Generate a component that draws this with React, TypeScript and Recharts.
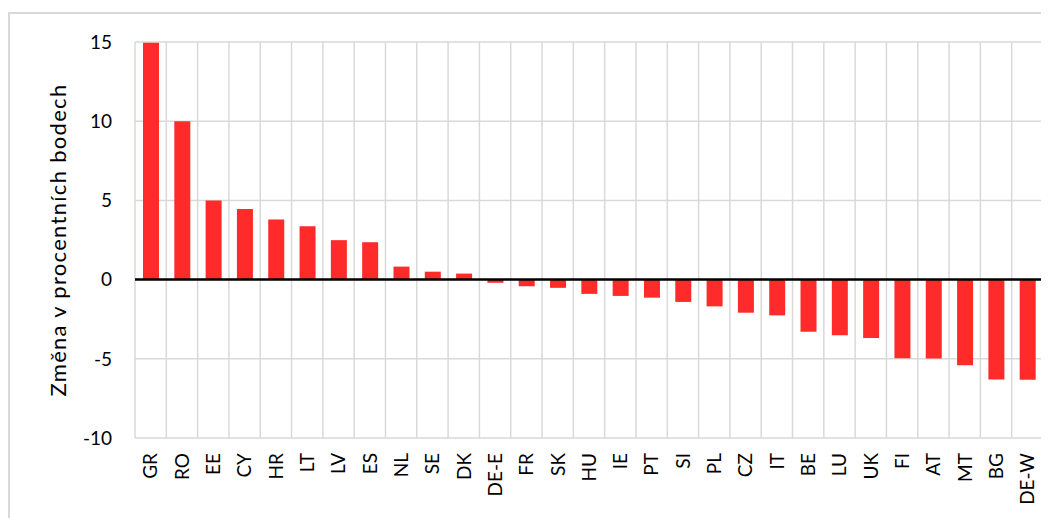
import React from "react";
import {
  BarChart,
  Bar,
  XAxis,
  YAxis,
  CartesianGrid,
  ReferenceLine,
} from "recharts";

const countries = [
  "GR", "RO", "EE", "CY", "HR", "LT", "LV", "ES", "NL", "SE", "DK", "DE-E", "FR", "SK", "HU",
  "IE", "PT", "SI", "PL", "CZ", "IT", "BE", "LU", "UK", "FI", "AT", "MT", "BG", "DE-W",
];

const changes = [
  14.95, 10.0, 5.0, 4.45, 3.8, 3.37, 2.49, 2.36, 0.82, 0.5, 0.38, -0.2, -0.42, -0.52, -0.9,
  -1.03, -1.14, -1.41, -1.69, -2.09, -2.26, -3.29, -3.52, -3.69, -4.96, -4.98, -5.4, -6.31, -6.33,
];

const yTicks = [-10, -5, 0, 5, 10, 15];
const yLabel = "Změna v procentních bodech";

// category boundaries for the vertical grid lines
const boundaryTicks = countries.map((_, i) => i).concat(countries.length);

const data = countries.map((c, i) => ({ country: c, value: changes[i], pos: i + 0.5 }));

const FONT = "Lato, 'Open Sans', sans-serif";
const GRID = "#d9d9d9";

function RotatedTick(props: any) {
  const { x, y, payload } = props;
  return (
    <text
      x={x}
      y={y}
      transform={`rotate(-90, ${x}, ${y})`}
      textAnchor="end"
      dy="0.36em"
      fontSize={19}
      fontFamily={FONT}
      fill="#000"
    >
      {payload.value}
    </text>
  );
}

function YLabel(props: any) {
  const { viewBox } = props;
  const cy = viewBox.y + viewBox.height / 2;
  const cx = 50;
  return (
    <text
      x={cx}
      y={cy}
      transform={`rotate(-90, ${cx}, ${cy})`}
      textAnchor="middle"
      dy="0.36em"
      fontSize={22}
      letterSpacing={1.3}
      fontFamily={FONT}
      fill="#000"
    >
      {yLabel}
    </text>
  );
}

export default function App() {
  return (
    <div style={{ position: "relative", width: 1041, height: 510 }}>
      <div
        style={{
          position: "absolute",
          left: 0,
          top: 4,
          width: 1100,
          height: 600,
          borderTop: `2px solid ${GRID}`,
          borderLeft: `2px solid ${GRID}`,
          boxSizing: "border-box",
        }}
      />
      <BarChart
        width={1041}
        height={510}
        data={data}
        margin={{ top: 34, right: 6, left: 0, bottom: 0 }}
        style={{ position: "absolute", left: 0, top: 0 }}
      >
        <CartesianGrid
          xAxisId="grid"
          stroke={GRID}
          strokeWidth={1.5}
          vertical
          horizontal
        />
        <XAxis
          xAxisId="grid"
          dataKey="pos"
          type="number"
          domain={[0, countries.length]}
          ticks={boundaryTicks}
          hide
        />
        <XAxis
          dataKey="country"
          interval={0}
          height={80}
          axisLine={false}
          tickLine={false}
          tickSize={0}
          tickMargin={15}
          tick={<RotatedTick />}
        />
        <YAxis
          width={127}
          domain={[-10, 15]}
          ticks={yTicks}
          interval={0}
          axisLine={false}
          tickLine={false}
          tickSize={0}
          tickMargin={23}
          tick={{ fontSize: 19, fontFamily: FONT, fill: "#000" }}
          label={<YLabel />}
        />
        <Bar dataKey="value" fill="#ff2a2a" barSize={16} isAnimationActive={false} />
        <ReferenceLine y={0} stroke="#000" strokeWidth={2.5} />
      </BarChart>
    </div>
  );
}
